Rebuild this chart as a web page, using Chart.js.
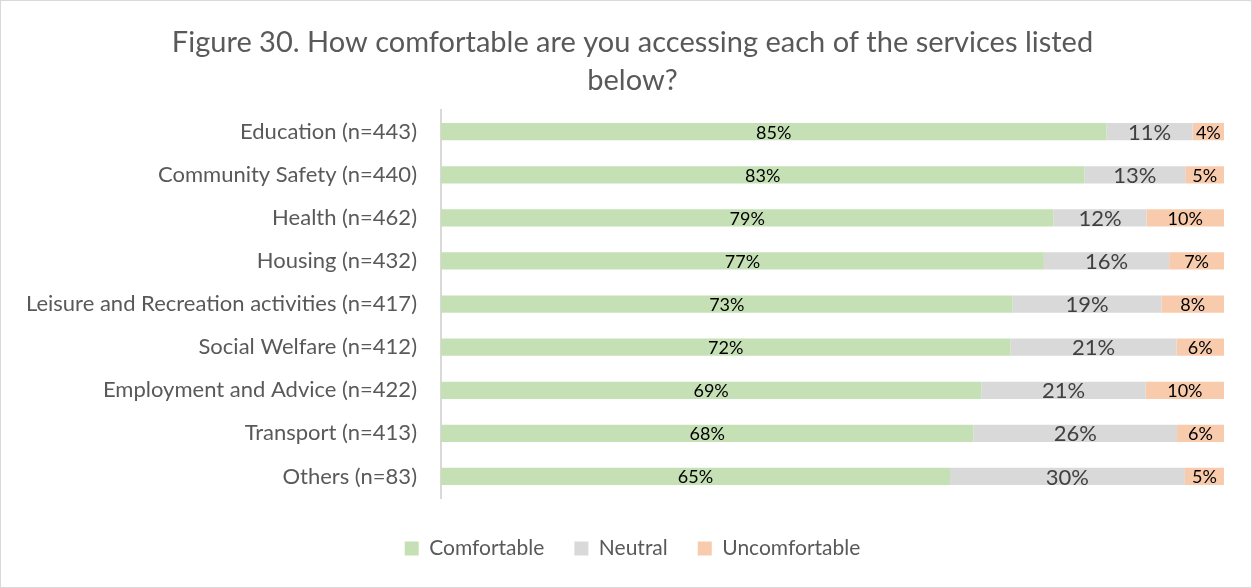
<!DOCTYPE html>
<html>
<head>
<meta charset="utf-8">
<script src="https://cdn.jsdelivr.net/npm/chart.js@4"></script>
<style>
  body { margin: 0; background: #fff; }
  #wrap { width: 1250px; height: 586px; border: 1px solid #d9d9d9; }
</style>
</head>
<body>
<div id="wrap"><canvas id="chart" width="1250" height="586"></canvas></div>
<script>
const services = [
    "Education (n=443)",
    "Community Safety (n=440)",
    "Health (n=462)",
    "Housing (n=432)",
    "Leisure and Recreation activities (n=417)",
    "Social Welfare (n=412)",
    "Employment and Advice (n=422)",
    "Transport (n=413)",
    "Others (n=83)"
];
const comfortable = [85, 83, 79, 77, 73, 72, 69, 68, 65];
const neutral = [11, 13, 12, 16, 19, 21, 21, 26, 30];
const uncomfortable = [4, 5, 10, 7, 8, 6, 10, 6, 5];

// 100% stacked like the original, labels keep the rounded numbers
function share(arr, i) {
    return arr[i] / (comfortable[i] + neutral[i] + uncomfortable[i]) * 100;
}
const raw = [comfortable, neutral, uncomfortable];

const labelPlugin = {
    id: "barLabels",
    afterDatasetsDraw(chart) {
        const ctx = chart.ctx;
        const fonts = ["18px Lato", "22px Lato", "18px Lato"];
        const colors = ["#000000", "#404040", "#000000"];
        chart.data.datasets.forEach(function(ds, d) {
            const meta = chart.getDatasetMeta(d);
            meta.data.forEach(function(bar, i) {
                ctx.save();
                ctx.font = fonts[d];
                ctx.fillStyle = colors[d];
                ctx.textAlign = "center";
                ctx.textBaseline = "middle";
                ctx.fillText(raw[d][i] + "%", (bar.x + bar.base) / 2, bar.y + 1);
                ctx.restore();
            });
        });
    }
};

Chart.defaults.font.family = "Lato";
Chart.defaults.color = "#595959";

new Chart(document.getElementById("chart"), {
    type: "bar",
    data: {
        labels: services,
        datasets: [
            { label: "Comfortable", data: comfortable.map((v, i) => share(comfortable, i)), backgroundColor: "#c5e0b4" },
            { label: "Neutral", data: neutral.map((v, i) => share(neutral, i)), backgroundColor: "#d9d9d9" },
            { label: "Uncomfortable", data: uncomfortable.map((v, i) => share(uncomfortable, i)), backgroundColor: "#f8cbad" }
        ]
    },
    options: {
        indexAxis: "y",
        responsive: false,
        animation: false,
        datasets: { bar: { barPercentage: 0.4, categoryPercentage: 1.0 } },
        layout: { padding: { left: 40, right: 27, top: 0, bottom: 18 } },
        scales: {
            x: {
                stacked: true, min: 0, max: 100,
                grid: { display: false },
                border: { display: false },
                ticks: { display: false },
                afterFit(scale) { scale.height = 10; }
            },
            y: {
                stacked: true,
                grid: { display: false, drawTicks: false },
                border: { color: "#d9d9d9", width: 2 },
                ticks: { font: { size: 22 }, color: "#595959", padding: 24 },
                afterFit(scale) {
                    scale.width = 400;
                    // long label runs past the left padding, don't clip it
                    scale._computeLabelArea = function() { return undefined; };
                }
            }
        },
        plugins: {
            title: {
                display: true,
                text: ["Figure 30. How comfortable are you accessing each of the services listed", "below?"],
                font: { size: 29, weight: "normal", lineHeight: 1.33 },
                color: "#595959",
                padding: { top: 22, bottom: 10 }
            },
            legend: {
                position: "bottom",
                labels: { boxWidth: 14, boxHeight: 14, font: { size: 21 }, color: "#595959", padding: 30 }
            },
            tooltip: { enabled: false }
        }
    },
    plugins: [labelPlugin]
});
</script>
</body>
</html>
